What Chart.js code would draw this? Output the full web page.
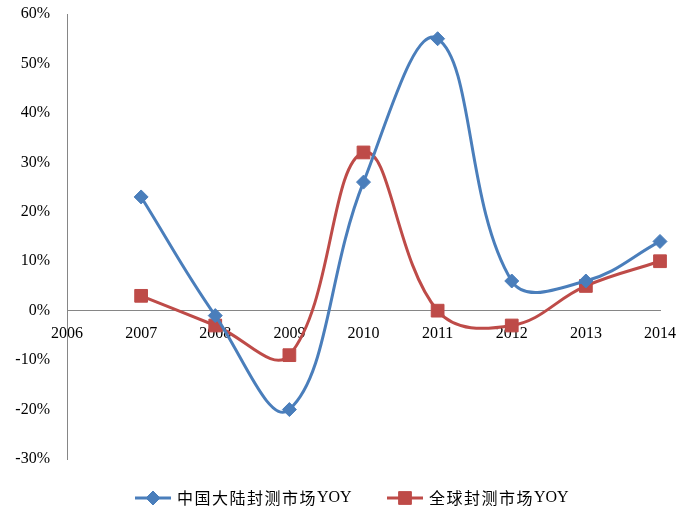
<!DOCTYPE html>
<html>
<head>
<meta charset="utf-8">
<script src="https://cdn.jsdelivr.net/npm/chart.js@4.4.1/dist/chart.umd.min.js"></script>
<style>
  html, body { margin: 0; padding: 0; background: #ffffff; }
  #wrap { width: 694px; height: 509px; position: relative; }
</style>
</head>
<body>
<div id="wrap"><canvas id="c" width="694" height="509"></canvas></div>
<script>
// Years on the horizontal axis
const years = ['2006', '2007', '2008', '2009', '2010', '2011', '2012', '2013', '2014'];
// Year-on-year growth, percent
const chinaYoY = [null, 23, -1, -20, 26, 55, 6, 6, 14];
const globalYoY = [null, 3, -3, -9, 32, 0, -3, 5, 10];
// Series names
const seriesNames = ['中国大陆封测市场YOY', '全球封测市场YOY'];
// Vertical axis range and step, percent
const yMin = -30, yMax = 60, yStep = 10;

const BLUE = '#4A7EBB';
const RED = '#BE4B48';
const AXIS = '#868686';
const FONT = '"Liberation Serif", "Times New Roman", "Noto Sans CJK SC", serif';
const CJK_FONT = '"Noto Sans CJK SC", sans-serif';

// Legend drawn under the plot: line segment with marker, then series name
const legendPlugin = {
  id: 'bottomLegend',
  afterDraw(chart) {
    const ctx = chart.ctx;
    const y = 498;
    const items = [
      { x: 135, color: BLUE, style: 'rectRot', r: 7, text: seriesNames[0] },
      { x: 387, color: RED, style: 'rect', r: 9, text: seriesNames[1] }
    ];
    ctx.save();
    items.forEach(it => {
      ctx.strokeStyle = it.color;
      ctx.lineWidth = 3;
      ctx.beginPath();
      ctx.moveTo(it.x, y);
      ctx.lineTo(it.x + 36, y);
      ctx.stroke();
      ctx.fillStyle = it.color;
      ctx.strokeStyle = it.color;
      ctx.lineWidth = 1;
      Chart.helpers.drawPoint(ctx, { pointStyle: it.style, radius: it.r, rotation: 0, borderWidth: 1 }, it.x + 18, y);
      // Chinese part and Latin part are set in different faces
      const m = it.text.match(/^([^A-Za-z]*)(.*)$/);
      ctx.fillStyle = '#000000';
      ctx.textBaseline = 'middle';
      ctx.textAlign = 'left';
      let tx = it.x + 42;
      ctx.font = '16px ' + CJK_FONT;
      ctx.letterSpacing = '1.5px';
      ctx.fillText(m[1], tx, y);
      tx += ctx.measureText(m[1]).width;
      ctx.letterSpacing = '0px';
      ctx.font = '16px ' + FONT;
      ctx.fillText(m[2], tx, y);
    });
    ctx.restore();
  }
};

new Chart(document.getElementById('c'), {
  type: 'line',
  data: {
    labels: years,
    datasets: [
      {
        label: seriesNames[0],
        data: chinaYoY,
        borderColor: BLUE,
        backgroundColor: BLUE,
        borderWidth: 3,
        pointStyle: 'rectRot',
        pointRadius: 7,
        pointHoverRadius: 7,
        pointBorderWidth: 1,
        tension: 0.4,
        fill: false
      },
      {
        label: seriesNames[1],
        data: globalYoY,
        borderColor: RED,
        backgroundColor: RED,
        borderWidth: 3,
        pointStyle: 'rect',
        pointRadius: 9,
        pointHoverRadius: 9,
        pointBorderWidth: 1,
        tension: 0.4,
        fill: false
      }
    ]
  },
  options: {
    responsive: false,
    animation: false,
    clip: false,
    layout: { padding: { top: 14, right: 34, bottom: 50, left: 0 } },
    plugins: {
      legend: { display: false },
      tooltip: { enabled: false }
    },
    scales: {
      x: {
        type: 'category',
        position: { y: 0 },
        offset: false,
        // the axis sits on the zero line, so it takes no room in the layout
        afterFit(scale) { scale.height = 0; },
        grid: { display: false, drawTicks: false },
        border: { display: true, color: AXIS, width: 1 },
        ticks: {
          color: '#000000',
          font: { family: FONT, size: 16 },
          padding: 14,
          maxRotation: 0,
          autoSkip: false
        }
      },
      y: {
        min: yMin,
        max: yMax,
        afterFit(scale) {
          scale.width = 67;
          scale.paddingTop = 0;
          scale.paddingBottom = 0;
        },
        grid: { display: false, drawTicks: false },
        border: { display: true, color: AXIS, width: 1 },
        ticks: {
          stepSize: yStep,
          color: '#000000',
          font: { family: FONT, size: 16 },
          padding: 17,
          callback: v => v + '%'
        }
      }
    }
  },
  plugins: [legendPlugin]
});
</script>
</body>
</html>
